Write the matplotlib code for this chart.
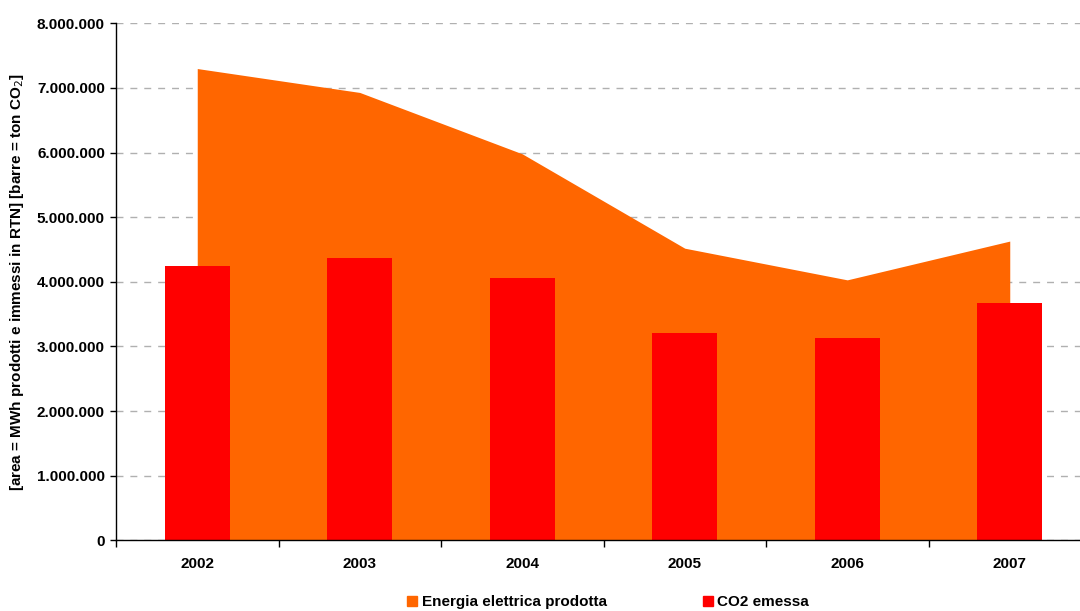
import matplotlib.pyplot as plt
import numpy as np
from matplotlib.patches import Patch

plt.rcParams['font.family'] = ['Liberation Sans', 'DejaVu Sans']

years = ['2002', '2003', '2004', '2005', '2006', '2007']
energia_mwh = [7300000, 6930000, 5980000, 4520000, 4030000, 4630000]
co2_ton = [4240000, 4370000, 4060000, 3210000, 3130000, 3670000]
y_ticks = [0, 1000000, 2000000, 3000000, 4000000, 5000000, 6000000, 7000000, 8000000]

orange = '#FF6600'
red = '#FF0000'
fs = 11

fig = plt.figure(figsize=(10.8, 6.11), dpi=100)
ax = fig.add_axes([116 / 1080, 1 - 540.3 / 611, 975 / 1080, 517 / 611])

x = np.arange(len(years))
ax.fill_between(x, energia_mwh, 0, color=orange, linewidth=0, zorder=2)
ax.bar(x, co2_ton, width=0.4, color=red, linewidth=0, zorder=3)

ax.set_xlim(-0.5, len(years) - 0.5)
ax.set_ylim(0, 8000000)

# y axis: Italian thousands separator
ax.set_yticks(y_ticks)
ax.set_yticklabels(['{:,}'.format(v).replace(',', '.') for v in y_ticks],
                   fontsize=fs, fontweight='bold')
ax.tick_params(axis='y', direction='out', length=4, width=1, pad=4)

# x axis: ticks on category boundaries, labels at category centres
ax.set_xticks(np.arange(-0.5, len(years)))
ax.set_xticklabels([])
ax.tick_params(axis='x', which='major', direction='out', length=5, width=1)
ax.set_xticks(x, minor=True)
ax.set_xticklabels(years, minor=True, fontsize=fs, fontweight='bold')
ax.tick_params(axis='x', which='minor', length=0, pad=12)

ax.yaxis.grid(True, color='#B0B0B0', linestyle=(0, (5, 5)), linewidth=1)
ax.set_axisbelow(True)
for side in ['top', 'right']:
    ax.spines[side].set_visible(False)
for side in ['left', 'bottom']:
    ax.spines[side].set_linewidth(1)
    ax.spines[side].set_zorder(4)

ax.set_ylabel('[area = MWh prodotti e immessi in RTN] [barre = ton CO$_2$]',
              fontsize=fs, fontweight='bold', labelpad=8)

handles = [Patch(color=orange, label='Energia elettrica prodotta'),
           Patch(color=red, label='CO2 emessa')]
fig.legend(handles=handles, loc='center', ncol=2, frameon=False,
           bbox_to_anchor=(608 / 1080, 1 - 602 / 611),
           prop={'size': fs, 'weight': 'bold'},
           handlelength=0.65, handleheight=0.65, handletextpad=0.3,
           columnspacing=6.3)

fig.savefig('out.png', dpi=100)
